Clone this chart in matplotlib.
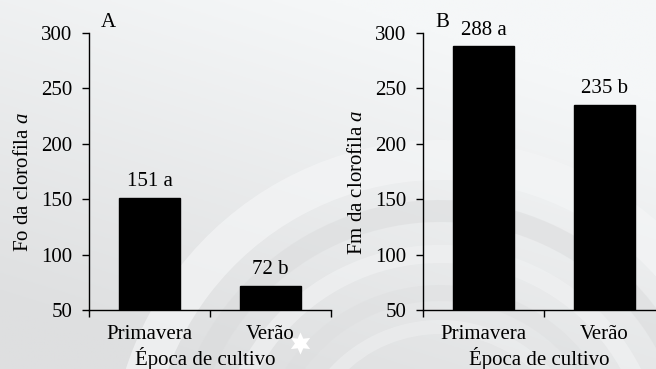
import matplotlib
matplotlib.use("Agg")
import matplotlib.pyplot as plt
import numpy as np
from matplotlib.patches import Wedge

plt.rcParams['font.family'] = ['Liberation Serif', 'DejaVu Serif']
plt.rcParams['mathtext.fontset'] = 'custom'
plt.rcParams['mathtext.rm'] = 'Liberation Serif'
plt.rcParams['mathtext.it'] = 'Liberation Serif:italic'

# Data
categories = ["Primavera", "Verão"]
fo_values = [151, 72]
fo_letters = ["a", "b"]
fm_values = [288, 235]
fm_letters = ["a", "b"]
y_ticks = [50, 100, 150, 200, 250, 300]

W, H = 656, 369
fig = plt.figure(figsize=(W / 100, H / 100), dpi=100, facecolor="#f3f5f6")

# Decorative background: soft gradient with faint swirl arcs
bg = fig.add_axes([0, 0, 1, 1], zorder=-10)
bg.set_xlim(0, W)
bg.set_ylim(H, 0)
bg.axis("off")
yy = np.linspace(0, 1, 200)[:, None]
xx = np.linspace(0, 1, 200)[None, :]
shade = np.clip(0.25 + 0.9 * yy - 0.5 * xx, 0, 1)
top = np.array([245, 247, 248]) / 255
low = np.array([222, 223, 224]) / 255
img = top[None, None, :] * (1 - shade[..., None]) + low[None, None, :] * shade[..., None]
bg.imshow(img, extent=[0, W, H, 0], aspect="auto", zorder=0)
cx, cy = 440, 470
bands = [(330, 40, "#f4f5f6", 0.7), (270, 22, "#dadbdc", 0.5),
         (225, 18, "#f0f1f2", 0.7), (185, 16, "#dcddde", 0.4),
         (150, 14, "#eeeff0", 0.6)]
for r, w, c, a in bands:
    bg.add_patch(Wedge((cx, cy), r, 170, 360, width=w, facecolor=c,
                       edgecolor="none", alpha=a, zorder=1))
bg.plot([300], [343], marker=(6, 1, 0), markersize=16, color="white",
        markeredgewidth=0, zorder=2)

FS = 15


def panel(rect, values, letters, ylabel, tag):
    ax = fig.add_axes(rect)
    ax.patch.set_alpha(0)
    x = list(range(len(categories)))
    ax.bar(x, [v - 50 for v in values], bottom=50, width=0.5,
           color="black", edgecolor="black")
    for xi, v, l in zip(x, values, letters):
        ax.text(xi, v + 6, f"{v} {l}", ha="center", va="bottom", fontsize=FS)
    ax.set_xlim(-0.5, 1.5)
    ax.set_ylim(50, 300)
    ax.set_yticks(y_ticks)
    ax.tick_params(axis="y", direction="out", length=5, width=1,
                   labelsize=FS, pad=7)
    ax.set_xticks([-0.5, 0.5, 1.5])
    ax.set_xticklabels(["", "", ""])
    ax.set_xticks(x, minor=True)
    ax.set_xticklabels(categories, minor=True, fontsize=FS)
    ax.tick_params(axis="x", which="major", direction="out", length=5, width=1)
    ax.tick_params(axis="x", which="minor", length=0, pad=11)
    for s in ("top", "right"):
        ax.spines[s].set_visible(False)
    for s in ("left", "bottom"):
        ax.spines[s].set_linewidth(1)
        ax.spines[s].set_clip_on(False)
    ax.set_ylabel(ylabel, fontsize=FS)
    ax.yaxis.label.set_va("center")
    ax.yaxis.set_label_coords(-65 / 242, (310 - 182) / 277)
    ax.set_xlabel("Época de cultivo", fontsize=FS)
    ax.xaxis.label.set_va("baseline")
    ax.xaxis.set_label_coords(0.48, -(365 - 310) / 277)
    ax.text(0.08, 1.037, tag, transform=ax.transAxes, fontsize=FS,
            ha="center", va="center")
    return ax


bottom = 1 - 310 / H
height = (310 - 33) / H
width = 242 / W
panel([89 / W, bottom, width, height], fo_values, fo_letters,
      r"Fo da clorofila $\it{a}$", "A")
panel([423 / W, bottom, width, height], fm_values, fm_letters,
      r"Fm da clorofila $\it{a}$", "B")

fig.savefig("out.png", dpi=100, facecolor=fig.get_facecolor())
